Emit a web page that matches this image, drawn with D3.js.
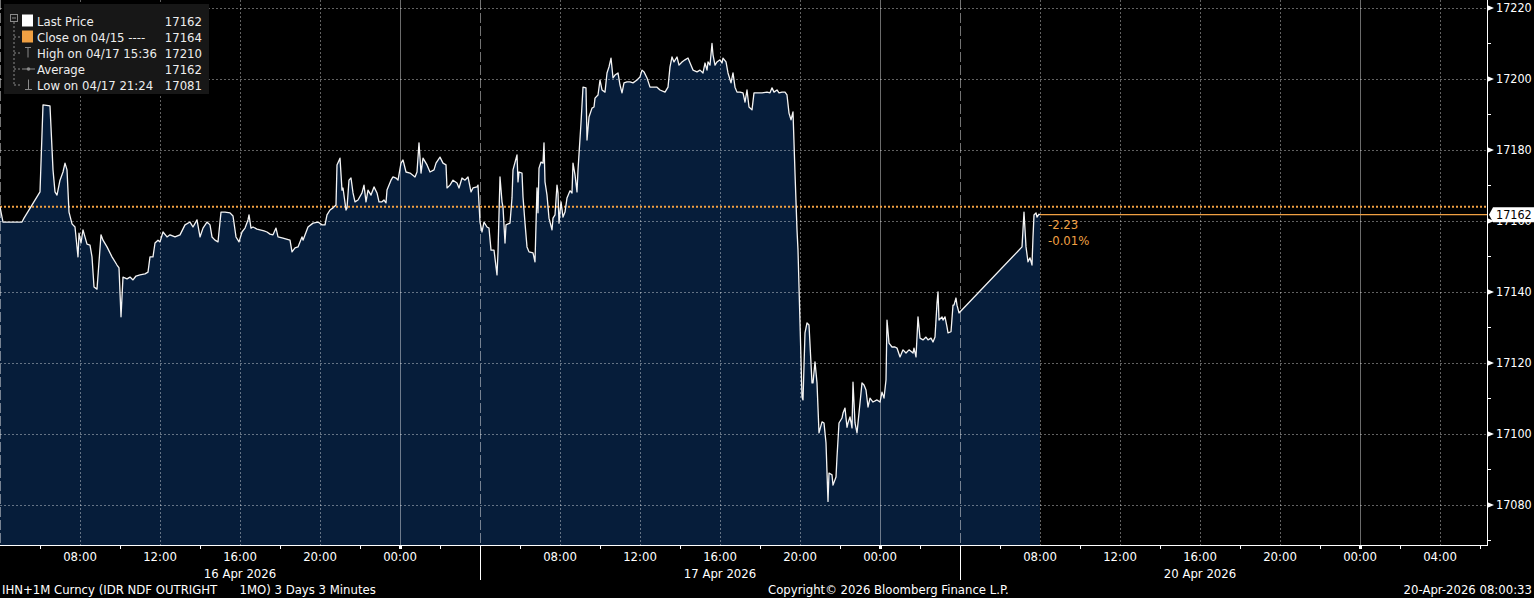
<!DOCTYPE html>
<html><head><meta charset="utf-8">
<script src="https://cdn.jsdelivr.net/npm/d3@7"></script>
<style>
html,body{margin:0;padding:0;background:#000;overflow:hidden}
svg{display:block}
text{font-family:"DejaVu Sans Condensed","DejaVu Sans","Liberation Sans",sans-serif;}
</style>
</head><body>
<svg id="c" width="1534" height="598"></svg>
<script>
// ---- DATA: [minutes since 04:00 session start, price] ----
const session16 = [[0,17164],[9,17159.7],[66,17159.7],[72,17160.8],[120,17168.2],[129,17192.7],[150,17192.4],[159,17174.4],[165,17168.2],[171,17167.3],
[180,17171.5],[189,17173.8],[195,17176.3],[201,17174.4],[207,17162.5],[216,17159.2],[225,17158.3],[234,17149.9],[237,17156.6],[243,17153.8],
[249,17157.5],[261,17153.5],[270,17153.2],[276,17149.9],[282,17141.4],[291,17140.8],[303,17156.1],[309,17154.6],[321,17152.7],[336,17149.9],
[351,17147.6],[357,17146.8],[363,17133.0],[369,17144.2],[381,17143.7],[390,17144.2],[399,17143.4],[408,17144.5],[420,17144.8],[435,17145.1],
[444,17145.6],[450,17149.9],[459,17149.9],[465,17153.8],[474,17154.6],[480,17154.1],[489,17156.9],[501,17155.5],[510,17156.1],[525,17155.5],
[540,17156.1],[555,17158.9],[570,17159.7],[579,17158.3],[591,17160.3],[600,17155.5],[609,17158.0],[621,17159.7],[630,17158.9],[636,17155.5],
[645,17154.6],[654,17154.1],[663,17162.5],[675,17162.5],[690,17162.3],[699,17161.4],[708,17155.5],[717,17154.1],[726,17156.9],[735,17158.0],
[744,17160.3],[747,17161.7],[753,17158.0],[759,17158.3],[771,17157.7],[780,17157.5],[792,17157.2],[801,17156.9],[810,17156.3],[819,17156.1],
[828,17158.0],[834,17155.5],[849,17155.2],[870,17154.6],[876,17151.3],[885,17152.4],[894,17152.7],[906,17155.5],[909,17154.6],[924,17158.3],
[939,17159.4],[954,17159.7],[966,17158.9],[975,17158.9],[981,17161.7],[990,17163.1],[999,17163.7],[1008,17164.5],[1011,17175.8],[1020,17177.7],
[1026,17168.7],[1029,17169.3],[1038,17163.1],[1041,17163.7],[1047,17171.5],[1053,17172.1],[1059,17167.9],[1065,17165.4],[1074,17165.9],[1086,17167.9],
[1092,17170.1],[1098,17165.4],[1104,17168.7],[1113,17167.3],[1122,17169.6],[1131,17167.9],[1137,17165.4],[1146,17165.4],[1152,17165.9],[1158,17165.1],
[1161,17168.7],[1173,17171.5],[1179,17172.4],[1188,17172.1],[1194,17171.5],[1203,17176.3],[1209,17177.2],[1218,17173.8],[1230,17173.5],[1245,17172.4],
[1251,17173.8],[1257,17182.0],[1263,17173.5],[1269,17177.7],[1281,17175.8],[1290,17173.8],[1302,17174.4],[1308,17176.3],[1320,17178.0],[1329,17176.3],
[1338,17175.8],[1341,17169.3],[1350,17170.1],[1359,17171.5],[1371,17170.7],[1377,17169.3],[1386,17172.1],[1395,17171.5],[1404,17172.4],[1413,17168.2],
[1419,17169.3],[1431,17169.6],[1434,17170.1],[1440,17159.7]];

const session17 = [[6,17156.9],[12,17159.7],[21,17158.3],[27,17158.0],[33,17151.8],[42,17151.8],[51,17144.8],[54,17151.3],[60,17172.4],[66,17165.4],
[69,17163.9],[75,17153.8],[78,17158.9],[90,17159.4],[96,17166.5],[99,17174.4],[111,17178.6],[114,17171.0],[117,17173.8],[126,17173.5],
[129,17166.8],[135,17159.4],[141,17152.7],[147,17151.3],[159,17151.0],[165,17148.5],[171,17169.3],[174,17162.3],[177,17174.9],[183,17176.6],
[189,17176.3],[192,17182.0],[195,17171.0],[201,17167.3],[207,17160.8],[216,17157.5],[219,17160.8],[225,17161.7],[231,17170.1],[234,17167.9],
[237,17159.4],[243,17165.4],[249,17161.1],[255,17162.5],[261,17166.5],[270,17168.5],[276,17167.9],[279,17176.3],[285,17173.0],[291,17168.2],
[294,17174.4],[303,17187.6],[309,17197.7],[318,17197.5],[321,17182.8],[327,17189.3],[336,17191.8],[342,17192.1],[345,17194.6],[354,17195.5],
[360,17199.7],[366,17196.9],[375,17196.3],[381,17201.7],[387,17203.4],[393,17205.9],[399,17200.3],[405,17201.1],[414,17201.7],[420,17198.3],
[426,17196.1],[432,17198.9],[441,17199.2],[450,17199.2],[459,17198.9],[471,17199.7],[480,17200.6],[486,17202.5],[492,17202.0],[501,17200.3],
[510,17197.7],[519,17197.7],[531,17197.7],[540,17196.9],[555,17196.3],[564,17197.7],[570,17203.4],[576,17206.2],[582,17204.8],[591,17206.2],
[597,17203.9],[606,17204.8],[615,17205.4],[624,17205.9],[633,17203.9],[639,17202.5],[651,17202.0],[660,17202.5],[669,17201.7],[675,17204.5],
[681,17202.5],[684,17204.8],[690,17203.9],[696,17210.0],[699,17206.8],[705,17203.9],[711,17204.8],[720,17205.4],[726,17204.5],[729,17205.9],
[738,17204.8],[744,17201.7],[753,17198.9],[759,17201.7],[765,17197.7],[771,17196.3],[780,17196.3],[789,17196.1],[795,17193.5],[801,17196.9],
[807,17192.1],[816,17191.3],[822,17196.1],[834,17196.1],[846,17196.1],[861,17196.3],[870,17196.1],[876,17197.5],[882,17196.3],[891,17196.9],
[897,17196.1],[906,17196.3],[915,17196.3],[921,17195.5],[927,17190.4],[933,17188.5],[939,17190.7],[945,17173.5],[951,17157.5],[954,17151.8],
[960,17131.3],[966,17110.4],[969,17109.6],[975,17128.5],[981,17131.3],[987,17130.7],[996,17114.4],[999,17114.4],[1005,17120.3],[1011,17114.4],
[1017,17100.3],[1026,17103.4],[1032,17103.1],[1038,17097.5],[1044,17081.0],[1047,17089.0],[1056,17088.5],[1059,17085.6],[1068,17087.9],[1071,17093.5],
[1077,17103.1],[1086,17104.5],[1089,17105.9],[1095,17107.3],[1101,17101.9],[1104,17103.1],[1110,17104.8],[1116,17101.7],[1119,17114.6],[1125,17103.1],
[1131,17100.3],[1137,17105.9],[1146,17114.4],[1152,17113.8],[1158,17112.4],[1164,17107.6],[1170,17110.1],[1179,17109.0],[1191,17109.6],[1200,17109.0],
[1206,17111.8],[1212,17110.1],[1218,17115.2],[1221,17132.1],[1227,17125.6],[1236,17124.5],[1245,17124.5],[1251,17124.2],[1260,17121.7],[1269,17123.7],
[1278,17122.8],[1287,17123.7],[1299,17122.8],[1302,17124.2],[1308,17121.7],[1314,17133.0],[1320,17127.0],[1329,17126.5],[1338,17127.3],[1344,17126.5],
[1353,17127.0],[1359,17125.9],[1365,17127.3],[1371,17136.9],[1374,17140.0],[1377,17132.1],[1386,17133.0],[1389,17132.1],[1395,17133.0],[1401,17130.2],
[1404,17128.5],[1413,17128.8],[1419,17136.3],[1422,17136.3],[1428,17138.3],[1431,17136.3],[1437,17134.1]];

const session20 = [[186,17152.7],[192,17162.5],[198,17152.7],[204,17148.5],[210,17149.6],[216,17147.6],[219,17155.5],[222,17161.7],[228,17162.3],[231,17161.1],
[237,17161.9],[240,17161.77]];

const sessionOffsets = [0, 1440, 2880];           // sessions laid end to end (weekend removed)
const axisEndMinutes = 4461;                       // right edge of the time axis
const yTickValues = [17080, 17100, 17120, 17140, 17160, 17180, 17200, 17220];
const yMinorValues = [17070, 17090, 17110, 17130, 17150, 17170, 17190, 17210];
const timeLabels = ["08:00", "12:00", "16:00", "20:00", "00:00", "04:00"];
const dayLabels = ["16 Apr 2026", "17 Apr 2026", "20 Apr 2026"];
const prevClose = 17164;
const lastPrice = 17161.77;
const changeLabels = ["-2.23", "-0.01%"];
const legendNames = ["Last Price", "Close on 04/15 ----", "High on 04/17 15:36", "Average", "Low on 04/17 21:24"];
const legendValues = ["17162", "17164", "17210", "17162", "17081"];
const footerLeft = "IHN+1M Curncy (IDR NDF OUTRIGHT      1MO) 3 Days 3 Minutes";
const footerMid = "Copyright\u00A9 2026 Bloomberg Finance L.P.";
const footerRight = "20-Apr-2026 08:00:33";

// ---- LAYOUT ----
const W = 1534, H = 598;
const plotR = 1487, plotB = 545;
const svg = d3.select("#c");
svg.append("rect").attr("width", W).attr("height", H).attr("fill", "#000");

const x = d3.scaleLinear().domain([0, axisEndMinutes]).range([0, plotR]);
const y = d3.scaleLinear().domain([17068.73, 17222.25]).range([plotB, 0]);

const data = [];
[session16, session17, session20].forEach((s, i) => s.forEach(d => data.push({t: d[0] + sessionOffsets[i], v: d[1]})));

const navy = "#061d3a";
const orange = "#f0a043";

// area
svg.append("path").datum(data)
  .attr("d", d3.area().x(d => x(d.t)).y0(plotB).y1(d => y(d.v)))
  .attr("fill", navy);

// grid
const grid = svg.append("g");
yTickValues.forEach(v => {
  grid.append("line").attr("x1", 0).attr("x2", plotR).attr("y1", Math.round(y(v)) + 0.5).attr("y2", Math.round(y(v)) + 0.5)
    .attr("stroke", "rgba(255,255,255,0.38)").attr("stroke-dasharray", "2,2");
});
sessionOffsets.forEach((off, si) => {
  for (let k = 0; k < 6; k++) {
    const m = off + k * 240;
    if (m > axisEndMinutes) continue;
    const xp = Math.round(x(m)) + 0.5;
    const ln = grid.append("line").attr("x1", xp).attr("x2", xp).attr("y1", 0).attr("y2", plotB);
    if (k === 0) ln.attr("stroke", "rgba(255,255,255,0.45)").attr("stroke-dasharray", "10,3");
    else if (k === 5) ln.attr("stroke", "rgba(255,255,255,0.42)");
    else ln.attr("stroke", "rgba(255,255,255,0.38)").attr("stroke-dasharray", "2,2");
  }
});
{
  const m = sessionOffsets[2] + 1440;
  const xp = Math.round(x(m)) + 0.5;
  grid.append("line").attr("x1", xp).attr("x2", xp).attr("y1", 0).attr("y2", plotB)
    .attr("stroke", "rgba(255,255,255,0.38)").attr("stroke-dasharray", "2,2");
}

// previous close dotted
svg.append("line").attr("x1", 0).attr("x2", plotR).attr("y1", y(prevClose)).attr("y2", y(prevClose))
  .attr("stroke", orange).attr("stroke-width", 2).attr("stroke-dasharray", "2,2");

// last price line
const last = data[data.length - 1];
svg.append("line").attr("x1", x(last.t)).attr("x2", plotR).attr("y1", y(lastPrice)).attr("y2", y(lastPrice))
  .attr("stroke", orange).attr("stroke-width", 1.3);

// price line
svg.append("path").datum(data)
  .attr("d", d3.line().x(d => x(d.t)).y(d => y(d.v)))
  .attr("fill", "none").attr("stroke", "#f4f4f4").attr("stroke-width", 1.3).attr("stroke-linejoin", "round");

// change labels
changeLabels.forEach((s, i) => {
  svg.append("text").attr("x", x(last.t) + 8).attr("y", y(lastPrice) + 14 + i * 16)
    .attr("fill", orange).attr("font-size", 13).text(s);
});

// ---- axes ----
const ax = svg.append("g");
ax.append("line").attr("x1", plotR + 0.5).attr("x2", plotR + 0.5).attr("y1", 0).attr("y2", plotB + 1).attr("stroke", "#fff");
ax.append("line").attr("x1", 0).attr("x2", plotR + 1).attr("y1", plotB + 0.5).attr("y2", plotB + 0.5).attr("stroke", "#fff");

yTickValues.forEach(v => {
  const yp = y(v);
  ax.append("path").attr("d", `M${plotR},${yp - 3}L${plotR + 7},${yp}L${plotR},${yp + 3}Z`).attr("fill", "#fff");
  ax.append("text").attr("x", plotR + 9).attr("y", yp + 4.5).attr("fill", "#fff").attr("font-size", 12.5).text(v);
});
yMinorValues.forEach(v => {
  const yp = Math.round(y(v)) + 0.5;
  ax.append("line").attr("x1", plotR).attr("x2", plotR + 4).attr("y1", yp).attr("y2", yp).attr("stroke", "#fff");
});

// last price tag (drawn over the 17160 label, as in the terminal)
{
  const yp = y(lastPrice);
  ax.append("path").attr("d", `M${plotR + 2},${yp}L${plotR + 6},${yp - 7.5}L${W},${yp - 7.5}L${W},${yp + 7.5}L${plotR + 6},${yp + 7.5}Z`).attr("fill", "#fff");
  ax.append("text").attr("x", plotR + 9).attr("y", yp + 4.5).attr("fill", "#000").attr("font-size", 12.5).text(d3.format(".0f")(lastPrice));
}

// time axis
sessionOffsets.forEach((off, si) => {
  for (let k = 1; k <= 6; k++) {
    const m = off + k * 240;
    if (m > axisEndMinutes) continue;
    if (k === 6 && si < 2) continue;
    ax.append("text").attr("x", x(m)).attr("y", 561).attr("text-anchor", "middle")
      .attr("fill", "#fff").attr("font-size", 13).text(timeLabels[k - 1]);
  }
  for (let k = 0; k < 7; k++) {
    const m = off + 120 + k * 240;
    if (m > axisEndMinutes) continue;
    const xp = Math.round(x(m)) + 0.5;
    ax.append("line").attr("x1", xp).attr("x2", xp).attr("y1", plotB).attr("y2", plotB + 4).attr("stroke", "#fff");
  }
  const mid = off + 1200;
  ax.append("rect").attr("x", Math.round(x(mid)) - 1).attr("y", plotB).attr("width", 3).attr("height", 4).attr("fill", "#fff");
  if (si > 0) {
    const xp = Math.round(x(off)) + 0.5;
    ax.append("line").attr("x1", xp).attr("x2", xp).attr("y1", plotB).attr("y2", 580).attr("stroke", "#fff");
  }
  ax.append("text").attr("x", x(off + 720)).attr("y", 578).attr("text-anchor", "middle")
    .attr("fill", "#fff").attr("font-size", 13).text(dayLabels[si]);
});

// footer
svg.append("text").attr("x", 2).attr("y", 594).attr("fill", "#fff").attr("font-size", 13)
  .style("white-space", "pre").text(footerLeft);
svg.append("text").attr("x", 768).attr("y", 594).attr("fill", "#fff").attr("font-size", 13).text(footerMid);
svg.append("text").attr("x", 1532).attr("y", 594).attr("text-anchor", "end").attr("fill", "#fff").attr("font-size", 13).text(footerRight);

// ---- legend ----
const lg = svg.append("g");
lg.append("rect").attr("x", 4).attr("y", 4).attr("width", 205).attr("height", 90).attr("fill", "#171717");
const rowY = i => 20.5 + i * 16;
const gray = "#8a8a8a";
lg.append("rect").attr("x", 10.5).attr("y", 14.5).attr("width", 7).attr("height", 7).attr("fill", "none").attr("stroke", gray);
lg.append("line").attr("x1", 12).attr("x2", 16).attr("y1", 18).attr("y2", 18).attr("stroke", gray);
lg.append("line").attr("x1", 14).attr("x2", 14).attr("y1", 22).attr("y2", rowY(4)).attr("stroke", gray).attr("stroke-dasharray", "2,2");
for (let i = 1; i < 5; i++) {
  lg.append("line").attr("x1", 14).attr("x2", 21).attr("y1", rowY(i) + 0.5).attr("y2", rowY(i) + 0.5).attr("stroke", gray).attr("stroke-dasharray", "2,2");
}
lg.append("rect").attr("x", 22).attr("y", rowY(0) - 6).attr("width", 11).attr("height", 12).attr("fill", "#fff");
lg.append("rect").attr("x", 22).attr("y", rowY(1) - 6).attr("width", 11).attr("height", 12).attr("fill", orange);
lg.append("path").attr("d", `M25,${rowY(2) - 5}H31M28,${rowY(2) - 5}V${rowY(2) + 5}`).attr("stroke", gray).attr("fill", "none");
lg.append("path").attr("d", `M22,${rowY(3) + 0.5}H35`).attr("stroke", gray);
lg.append("circle").attr("cx", 28.5).attr("cy", rowY(3) + 0.5).attr("r", 1.8).attr("fill", gray);
lg.append("path").attr("d", `M25,${rowY(4) + 5}H32M28.5,${rowY(4) - 5}V${rowY(4) + 5}`).attr("stroke", gray).attr("fill", "none");
legendNames.forEach((n, i) => {
  lg.append("text").attr("x", 37).attr("y", rowY(i) + 5).attr("fill", "#eee").attr("font-size", 13).style("white-space", "pre").text(n);
  lg.append("text").attr("x", 202).attr("y", rowY(i) + 5).attr("text-anchor", "end").attr("fill", "#eee").attr("font-size", 13).text(legendValues[i]);
});
</script>
</body></html>
